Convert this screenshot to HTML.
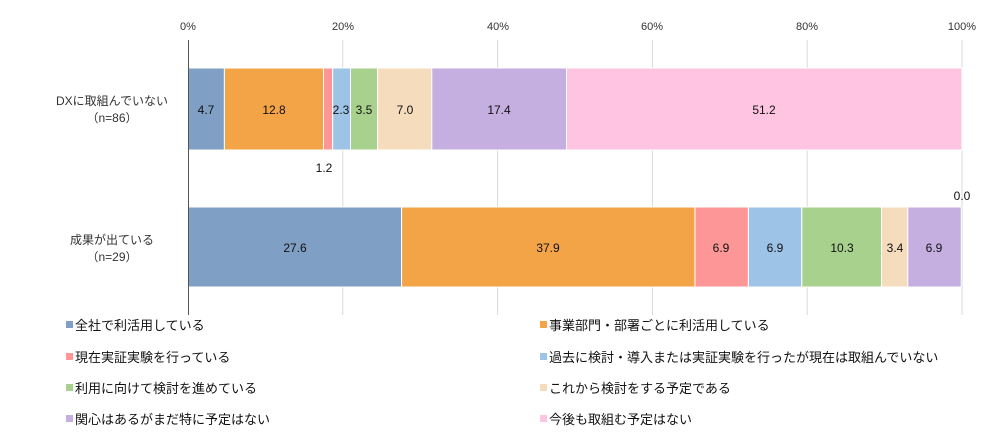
<!DOCTYPE html>
<html><head><meta charset="utf-8"><style>
body{margin:0;background:#fff;}
svg text{font-family:"Liberation Sans","Noto Sans CJK JP",sans-serif;}
</style></head><body>
<svg width="1000" height="441" xmlns="http://www.w3.org/2000/svg">
<g stroke="#d9d9d9" stroke-width="1">
<line x1="342.8" y1="40" x2="342.8" y2="315"/>
<line x1="497.6" y1="40" x2="497.6" y2="315"/>
<line x1="652.4" y1="40" x2="652.4" y2="315"/>
<line x1="807.2" y1="40" x2="807.2" y2="315"/>
<line x1="962" y1="40" x2="962" y2="315"/>
</g>
<g font-size="11" fill="#333" text-anchor="middle">
<text x="188" y="30">0%</text><text x="343" y="30">20%</text><text x="498" y="30">40%</text>
<text x="652" y="30">60%</text><text x="807" y="30">80%</text><text x="962" y="30">100%</text>
</g>
<g stroke="#fff" stroke-width="1">
<rect x="188" y="68" width="36.4" height="82" fill="#7f9fc4"/>
<rect x="224.4" y="68" width="99.1" height="82" fill="#f2a446"/>
<rect x="323.5" y="68" width="9.2" height="82" fill="#fd9797"/>
<rect x="332.7" y="68" width="17.8" height="82" fill="#9dc3e6"/>
<rect x="350.5" y="68" width="27.1" height="82" fill="#a9d18e"/>
<rect x="377.6" y="68" width="54.2" height="82" fill="#f4dcbd"/>
<rect x="431.8" y="68" width="134.7" height="82" fill="#c5aee0"/>
<rect x="566.5" y="68" width="395.5" height="82" fill="#fec4e2"/>
<rect x="188" y="207" width="213.6" height="80" fill="#7f9fc4"/>
<rect x="401.6" y="207" width="293.4" height="80" fill="#f2a446"/>
<rect x="695" y="207" width="53.4" height="80" fill="#fd9797"/>
<rect x="748.4" y="207" width="53.4" height="80" fill="#9dc3e6"/>
<rect x="801.8" y="207" width="79.7" height="80" fill="#a9d18e"/>
<rect x="881.5" y="207" width="26.3" height="80" fill="#f4dcbd"/>
<rect x="907.8" y="207" width="53.4" height="80" fill="#c5aee0"/>
</g>
<line x1="188.5" y1="40" x2="188.5" y2="315" stroke="#555" stroke-width="1"/>
<g font-size="12" fill="#111" text-anchor="middle">
<text x="206" y="114">4.7</text><text x="274" y="114">12.8</text><text x="341" y="114">2.3</text>
<text x="364" y="114">3.5</text><text x="405" y="114">7.0</text><text x="499" y="114">17.4</text>
<text x="764" y="114">51.2</text><text x="324" y="172">1.2</text>
<text x="295" y="252">27.6</text><text x="548" y="252">37.9</text><text x="721" y="252">6.9</text>
<text x="775" y="252">6.9</text><text x="842" y="252">10.3</text><text x="895" y="252">3.4</text>
<text x="934" y="252">6.9</text><text x="962" y="200">0.0</text>
</g>
<g font-size="12" fill="#333" text-anchor="middle">
<text x="112" y="105">DXに取組んでいない</text><text x="112" y="122">（n=86）</text>
<text x="112" y="244">成果が出ている</text><text x="112" y="261">（n=29）</text>
</g>
<g font-size="13" fill="#111">
<rect x="66" y="321" width="7" height="7" fill="#7f9fc4"/><text x="75" y="330">全社で利活用している</text>
<rect x="66" y="353" width="7" height="7" fill="#fd9797"/><text x="75" y="362">現在実証実験を行っている</text>
<rect x="66" y="384" width="7" height="7" fill="#a9d18e"/><text x="75" y="393">利用に向けて検討を進めている</text>
<rect x="66" y="415" width="7" height="7" fill="#c5aee0"/><text x="75" y="424">関心はあるがまだ特に予定はない</text>
<rect x="540" y="321" width="7" height="7" fill="#f2a446"/><text x="549" y="330">事業部門・部署ごとに利活用している</text>
<rect x="540" y="353" width="7" height="7" fill="#9dc3e6"/><text x="549" y="362">過去に検討・導入または実証実験を行ったが現在は取組んでいない</text>
<rect x="540" y="384" width="7" height="7" fill="#f4dcbd"/><text x="549" y="393">これから検討をする予定である</text>
<rect x="540" y="415" width="7" height="7" fill="#fec4e2"/><text x="549" y="424">今後も取組む予定はない</text>
</g>
</svg>
</body></html>
